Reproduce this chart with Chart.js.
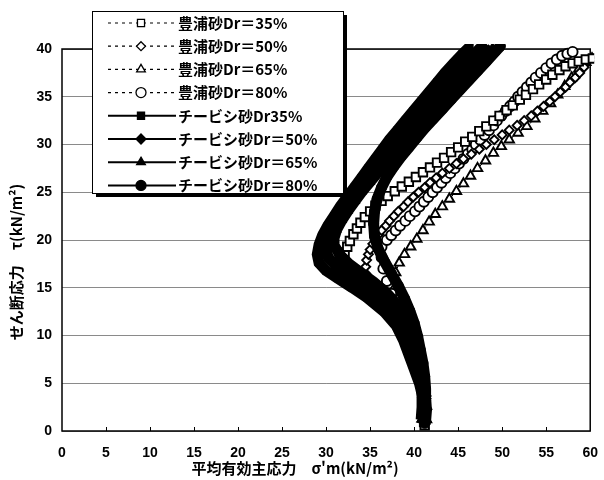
<!DOCTYPE html>
<html lang="ja">
<head>
<meta charset="UTF-8">
<title>せん断応力と平均有効主応力</title>
<script src="https://cdn.jsdelivr.net/npm/chart.js"></script>
<style>
  html, body { margin: 0; padding: 0; background: #fff; }
  #wrap { width: 604px; height: 480px; }
</style>
</head>
<body>
<div id="wrap"><canvas id="chart"></canvas></div>
<script>
// 凡例
const legendLabels = [
  '豊浦砂Dr＝35%', '豊浦砂Dr＝50%', '豊浦砂Dr＝65%', '豊浦砂Dr＝80%',
  'チービシ砂Dr35%', 'チービシ砂Dr＝50%', 'チービシ砂Dr＝65%', 'チービシ砂Dr＝80%'
];

// [σ'm, τ] 図から読み取り
const toyoura35 = [[41.2,0.6],[41.3,1.2],[41.3,1.8],[41.3,2.4],[41.3,3.0],[41.2,3.6],[41.1,4.2],[41.0,4.9],[40.8,5.6],[40.6,6.3],[40.3,7.0],[40.1,7.6],[39.8,8.3],[39.6,9.0],[39.3,9.7],[39.0,10.4],[38.6,11.1],[38.2,11.8],[37.6,12.4],[37.0,13.0],[36.3,13.5],[35.5,14.0],[34.6,14.5],[33.8,15.0],[33.0,15.4],[32.3,15.8],[31.8,16.3],[31.6,16.8],[31.6,17.4],[31.8,18.0],[32.1,18.7],[32.4,19.3],[32.7,19.9],[33.1,20.6],[33.5,21.2],[33.9,21.8],[34.4,22.4],[35.0,23.0],[35.6,23.6],[36.3,24.1],[37.0,24.6],[37.8,25.1],[38.6,25.6],[39.4,26.1],[40.2,26.6],[41.0,27.1],[41.8,27.6],[42.6,28.1],[43.4,28.6],[44.2,29.2],[45.0,29.7],[45.8,30.3],[46.6,30.8],[47.4,31.4],[48.2,31.9],[49.0,32.5],[49.7,33.0],[50.5,33.6],[51.2,34.1],[52.0,34.7],[52.7,35.2],[53.5,35.8],[54.2,36.3],[55.0,36.8],[55.7,37.3],[56.5,37.8],[57.2,38.2],[58.0,38.5],[58.7,38.7],[59.5,38.9],[60.3,39.0]];
const toyoura50 = [[41.0,1.0],[41.1,1.6],[41.1,2.2],[41.1,2.8],[41.1,3.4],[41.0,4.0],[40.9,4.6],[40.7,5.3],[40.5,6.0],[40.2,6.7],[40.0,7.4],[39.7,8.1],[39.4,8.8],[39.1,9.5],[38.8,10.2],[38.4,10.9],[38.0,11.6],[37.5,12.3],[37.0,13.0],[36.4,13.7],[35.8,14.4],[35.2,15.1],[34.8,15.8],[34.5,16.5],[34.5,17.2],[34.6,17.9],[34.8,18.5],[35.0,19.0],[35.3,19.6],[35.6,20.1],[36.0,20.6],[36.3,21.0],[36.8,21.5],[37.2,22.0],[37.7,22.5],[38.2,23.0],[38.8,23.5],[39.3,24.0],[39.9,24.5],[40.5,25.0],[41.2,25.5],[41.8,26.0],[42.5,26.5],[43.2,27.0],[44.0,27.5],[44.8,28.0],[45.6,28.5],[46.5,29.0],[47.4,29.5],[48.2,30.0],[49.1,30.5],[50.0,31.0],[50.8,31.5],[51.7,32.0],[52.5,32.5],[53.3,33.0],[54.0,33.5],[54.7,34.0],[55.4,34.5],[56.0,35.0],[56.6,35.5],[57.2,36.0],[57.7,36.5],[58.3,37.0],[58.8,37.5],[59.3,38.1],[59.7,38.8]];
const toyoura65 = [[41.4,1.2],[41.4,2.6],[41.3,4.0],[41.0,5.4],[40.5,6.8],[39.9,8.2],[39.3,9.6],[38.8,11.0],[38.4,12.4],[38.1,13.8],[37.9,15.2],[37.9,16.6],[38.3,17.6],[38.9,18.5],[39.6,19.3],[40.3,20.1],[41.0,21.0],[41.7,21.9],[42.4,22.7],[43.2,23.5],[44.0,24.3],[44.8,25.1],[45.6,25.9],[46.4,26.7],[47.2,27.5],[48.1,28.3],[49.0,29.1],[49.9,29.8],[50.8,30.5],[51.8,31.2],[52.8,31.9],[53.7,32.7],[54.6,33.5],[55.5,34.3],[56.3,35.2],[57.1,36.1],[57.9,37.0],[58.7,37.9],[59.5,38.6],[60.2,39.0]];
const toyoura80 = [[41.1,1.4],[41.2,2.4],[41.2,3.6],[41.0,4.8],[40.7,6.2],[40.2,7.6],[39.7,9.0],[39.2,10.4],[38.6,11.8],[38.0,13.1],[37.4,14.4],[36.9,15.7],[36.5,17.0],[36.3,18.2],[36.3,19.3],[36.9,20.0],[37.4,20.5],[37.9,21.0],[38.4,21.5],[39.0,22.0],[39.5,22.5],[40.1,23.0],[40.6,23.5],[41.1,24.0],[41.6,24.5],[42.1,25.0],[42.6,25.5],[43.1,26.0],[43.6,26.5],[44.1,27.0],[44.6,27.5],[45.1,28.0],[45.6,28.5],[46.1,29.0],[46.6,29.5],[47.0,30.0],[47.5,30.5],[48.0,31.0],[48.5,31.5],[49.0,32.0],[49.4,32.5],[49.9,33.0],[50.4,33.5],[50.9,34.0],[51.4,34.5],[51.8,35.0],[52.3,35.5],[52.8,36.0],[53.3,36.5],[53.8,37.0],[54.4,37.5],[55.0,38.0],[55.6,38.5],[56.2,38.9],[56.8,39.3],[57.4,39.5],[58.0,39.7]];
const chibishi35 = [[41.0,0.8],[41.1,2.0],[41.0,3.5],[40.6,5.0],[40.0,6.5],[39.4,8.0],[38.8,9.5],[38.0,11.0],[36.6,12.5],[34.6,14.0],[33.0,15.0],[31.3,16.0],[30.0,16.8],[29.2,17.6],[29.0,18.5],[29.2,19.5],[29.6,20.5],[30.2,21.5],[30.9,22.5],[31.6,23.5],[32.4,24.5],[33.2,25.5],[34.0,26.5],[34.8,27.5],[35.6,28.5],[36.4,29.5],[37.2,30.5],[38.1,31.5],[39.0,32.5],[39.9,33.5],[40.8,34.5],[41.7,35.5],[42.6,36.5],[43.5,37.5],[44.5,38.5],[45.5,39.5],[46.3,40.2]];
const chibishi50 = [[41.3,1.0],[41.4,2.2],[41.3,3.4],[41.0,4.8],[40.5,6.2],[40.0,7.6],[39.4,9.0],[38.8,10.4],[38.0,11.8],[36.9,13.0],[35.5,14.3],[34.0,15.5],[32.5,16.5],[31.2,17.3],[30.3,18.1],[29.9,19.0],[30.0,20.0],[30.4,21.0],[31.0,22.0],[31.7,23.0],[32.5,24.0],[33.3,25.0],[34.1,26.0],[35.0,27.0],[35.9,28.0],[36.8,29.0],[37.7,30.0],[38.6,31.0],[39.5,32.0],[40.4,33.0],[41.4,34.0],[42.4,35.0],[43.4,36.0],[44.4,37.0],[45.4,38.0],[46.4,39.0],[47.4,40.0],[47.8,40.3]];
const chibishi65 = [[40.8,1.2],[40.9,2.5],[40.9,3.8],[40.8,5.1],[40.6,6.5],[40.3,7.9],[40.0,9.3],[39.5,10.7],[38.9,12.0],[38.0,13.3],[36.8,14.5],[35.4,15.6],[33.9,16.6],[32.6,17.5],[31.6,18.4],[31.0,19.3],[30.9,20.2],[31.2,21.1],[31.8,22.1],[32.5,23.1],[33.3,24.1],[34.1,25.1],[35.0,26.1],[35.9,27.1],[36.8,28.1],[37.7,29.1],[38.6,30.1],[39.5,31.1],[40.5,32.1],[41.5,33.1],[42.5,34.1],[43.5,35.1],[44.6,36.1],[45.7,37.1],[46.8,38.1],[47.9,39.1],[48.9,40.1]];
const chibishi80 = [[41.2,0.8],[41.3,2.0],[41.3,3.2],[41.3,4.4],[41.2,5.7],[41.0,7.1],[40.7,8.5],[40.4,9.9],[40.0,11.3],[39.5,12.6],[38.9,13.9],[38.2,15.2],[37.4,16.5],[36.6,17.8],[35.9,19.1],[35.5,20.4],[35.4,21.7],[35.5,23.0],[35.8,24.3],[36.3,25.5],[36.9,26.6],[37.7,27.7],[38.5,28.7],[39.4,29.7],[40.3,30.7],[41.2,31.7],[42.2,32.7],[43.2,33.7],[44.2,34.7],[45.2,35.7],[46.2,36.7],[47.2,37.7],[48.2,38.7],[49.2,39.7],[49.8,40.3]];

const seriesData = [toyoura35, toyoura50, toyoura65, toyoura80, chibishi35, chibishi50, chibishi65, chibishi80];
const markerStyles = ['rect', 'rectRot', 'triangle', 'circle', 'rect', 'rectRot', 'triangle', 'circle'];
const markerSizes = [6, 4.5, 5.5, 5, 5, 5.5, 5.5, 5];

const datasets = seriesData.map((pts, i) => {
  const toyoura = i < 4;
  return {
    label: legendLabels[i],
    data: pts.map(p => ({ x: p[0], y: p[1] })),
    order: toyoura ? 1 : 0,
    showLine: true,
    clip: { left: 0, top: 5, right: 4, bottom: 0 },
    borderColor: '#000',
    borderWidth: toyoura ? 1 : 11,
    borderDash: toyoura ? [3, 3] : [],
    pointStyle: markerStyles[i],
    pointRadius: markerSizes[i],
    pointBorderWidth: toyoura ? 1.9 : 1,
    pointBorderColor: '#000',
    pointBackgroundColor: toyoura ? '#fff' : '#000'
  };
});

function drawMarker(ctx, style, x, y, r, fill) {
  ctx.beginPath();
  if (style === 'rect') {
    const s = r * Math.SQRT1_2;
    ctx.rect(x - s, y - s, 2 * s, 2 * s);
  } else if (style === 'rectRot') {
    ctx.moveTo(x, y - r); ctx.lineTo(x + r, y); ctx.lineTo(x, y + r); ctx.lineTo(x - r, y); ctx.closePath();
  } else if (style === 'triangle') {
    ctx.moveTo(x, y - r); ctx.lineTo(x + r * 0.87, y + r * 0.5); ctx.lineTo(x - r * 0.87, y + r * 0.5); ctx.closePath();
  } else {
    ctx.arc(x, y, r, 0, Math.PI * 2);
  }
  ctx.fillStyle = fill;
  ctx.fill();
  ctx.stroke();
}

const framePlugin = {
  id: 'frame',
  beforeDatasetsDraw(chart) {
    const { ctx, chartArea: a } = chart;
    ctx.save();
    ctx.strokeStyle = '#000';
    ctx.lineWidth = 1.5;
    ctx.strokeRect(a.left, a.top, a.right - a.left, a.bottom - a.top);
    // 下軸の内向き目盛
    ctx.lineWidth = 1;
    const xs = chart.scales.x;
    for (let v = 5; v < 60; v += 5) {
      const px = Math.round(xs.getPixelForValue(v)) + 0.5;
      ctx.beginPath();
      ctx.moveTo(px, a.bottom);
      ctx.lineTo(px, a.bottom - 4);
      ctx.stroke();
    }
    ctx.restore();
  },
  afterDraw(chart) {
    const { ctx } = chart;
    ctx.save();
    // 凡例ボックス
    const bx = 92, by = 11, bw = 251, bh = 182;
    ctx.fillStyle = '#000';
    ctx.fillRect(bx + 4, by + 4, bw, bh);
    ctx.fillStyle = '#fff';
    ctx.fillRect(bx, by, bw, bh);
    ctx.strokeStyle = '#000';
    ctx.lineWidth = 1;
    ctx.strokeRect(bx + 0.5, by + 0.5, bw, bh);
    ctx.font = 'bold 15px "Noto Sans CJK JP", sans-serif';
    ctx.textBaseline = 'middle';
    chart.data.datasets.forEach((ds, i) => {
      const y = by + 12 + i * 23.2;
      ctx.strokeStyle = '#000';
      ctx.lineWidth = ds.borderWidth === 1 ? 1.2 : 2;
      ctx.setLineDash(ds.borderDash.length ? [3, 4] : []);
      ctx.beginPath();
      ctx.moveTo(bx + 16, y);
      ctx.lineTo(bx + 84, y);
      ctx.stroke();
      ctx.setLineDash([]);
      ctx.lineWidth = 1.3;
      drawMarker(ctx, ds.pointStyle, bx + 49, y, Math.min(ds.pointRadius, 5), ds.pointBackgroundColor);
      ctx.fillStyle = '#000';
      ctx.textAlign = 'left';
      ctx.fillText(ds.label, bx + 86, y);
    });
    // 軸タイトル
    ctx.font = 'bold 15px "Noto Sans CJK JP", sans-serif';
    ctx.textAlign = 'center';
    ctx.fillText('平均有効主応力　σ\'m(kN/m²)', 295, 468);
    ctx.translate(16, 262);
    ctx.rotate(-Math.PI / 2);
    ctx.fillText('せん断応力　τ(kN/m²)', 0, 0);
    ctx.restore();
  }
};

new Chart(document.getElementById('chart'), {
  type: 'scatter',
  data: { datasets },
  options: {
    responsive: true,
    maintainAspectRatio: false,
    animation: false,
    layout: { padding: { top: 49, right: 7, left: 0, bottom: 0 } },
    plugins: { legend: { display: false }, tooltip: { enabled: false } },
    scales: {
      x: {
        min: 0, max: 60,
        afterFit(s) { s.height = 49; },
        border: { display: false },
        grid: { display: false },
        ticks: { stepSize: 5, padding: 6, color: '#000', font: { family: 'Liberation Sans', size: 14, weight: 'bold' } }
      },
      y: {
        min: 0, max: 40,
        afterFit(s) { s.width = 62; },
        border: { display: false },
        grid: { color: '#8a8a8a', lineWidth: 1, drawTicks: false },
        ticks: { stepSize: 5, padding: 10, color: '#000', font: { family: 'Liberation Sans', size: 14, weight: 'bold' } }
      }
    }
  },
  plugins: [framePlugin]
});
</script>
</body>
</html>
